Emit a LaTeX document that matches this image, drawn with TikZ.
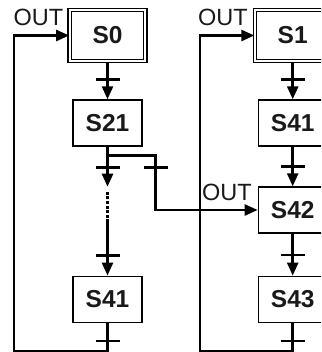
\documentclass[tikz,border=0pt]{standalone}
\usepackage{fontspec}
\setmainfont{Liberation Sans}
\usetikzlibrary{arrows.meta}
\begin{document}
\begin{tikzpicture}[x=1pt,y=-1pt,
  conn/.style={line width=2.5pt,black},
  arr/.style={conn,-{Triangle[length=13pt,width=11pt]}},
  tbar/.style={line width=2.5pt,black},
  stepbox/.style={draw=black,line width=1.4pt,minimum width=68.7pt,minimum height=46pt,inner sep=0pt,
    font=\fontsize{24.5}{24.5}\selectfont\bfseries,text=black!90},
  initbox/.style={stepbox,double=white,double distance=2pt,minimum width=75.3pt,minimum height=51pt},
  outlbl/.style={font=\fontsize{23.5}{24}\selectfont,text=black!90,inner sep=0pt}]
\useasboundingbox (0,0) rectangle (321,352);
\clip (0,0) rectangle (321,352);
% nodes
\node[initbox] (S0) at (107.5,35.5) {S0};
\node[stepbox] (S21) at (107.5,123) {S21};
\node[stepbox] (S41a) at (107.5,299.3) {S41};
\node[initbox] (S1) at (292.7,35.5) {S1};
\node[stepbox] (S41b) at (292.7,123) {S41};
\node[stepbox] (S42) at (292.7,210) {S42};
\node[stepbox] (S43) at (292.7,299.3) {S43};
\node[outlbl] (o1) at (38.5,17.5) {OUT};
\node[outlbl] (o2) at (223,17.5) {OUT};
\node[outlbl] (o3) at (227,192.5) {OUT};
% coordinates
\coordinate (sp) at (107.5,155.7);
\coordinate (rb) at (155.7,155.7);
\coordinate (a1) at (107.5,186.7);
\coordinate (d1) at (107.5,191.7);
\coordinate (d2) at (107.5,222);
\coordinate (b1) at (14,350.8);
\coordinate (b2) at (200,350.8);
% left column
\draw[arr] (S0.south) -- (S21.north);
\draw[conn] (S21.south) -- (sp);
\draw[arr] (sp) -- (a1);
\draw[conn,dash pattern=on 3pt off 1.6pt] (d1) -- (d2);
\draw[arr] (d2) -- (S41a.north);
\draw[arr] (sp) -- (rb) |- (S42.west);
\draw[arr] (S41a.south) |- (b1) |- (S0.west);
% right column
\draw[arr] (S1.south) -- (S41b.north);
\draw[arr] (S41b.south) -- (S42.north);
\draw[arr] (S42.south) -- (S43.north);
\draw[arr] (S43.south) |- (b2) |- (S1.west);
% transition bars
\foreach \x/\y in {107.5/79.3, 107.5/167.7, 155.7/167.7, 107.5/255.7, 107.5/341,
                   292.7/79.3, 292.7/166.7, 292.7/255, 292.7/341} {
  \draw[tbar] (\x-12,\y) -- (\x+12,\y);
}
\end{tikzpicture}
\end{document}
